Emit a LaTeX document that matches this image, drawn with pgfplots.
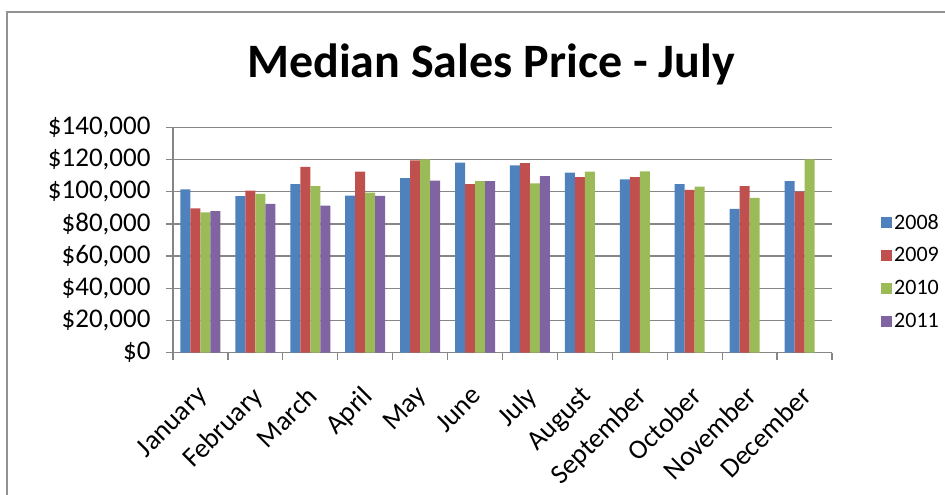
\documentclass[border=0pt]{standalone}
\usepackage{pgfplots}
\pgfplotsset{compat=1.18}
\usepackage{fontspec}
\setmainfont{Carlito}
\definecolor{cA}{HTML}{4F81BD}
\definecolor{cB}{HTML}{C0504D}
\definecolor{cC}{HTML}{9BBB59}
\definecolor{cD}{HTML}{8064A2}
\definecolor{gridc}{HTML}{868686}
\begin{document}
\begin{tikzpicture}[x=1pt,y=1pt]
\useasboundingbox (0,0) rectangle (945,495);
\begin{scope}
\clip (0,0) rectangle (945,495);
\draw[gridc!90, line width=1.5pt] (7,-10) -- (7,483) -- (960,483);
\end{scope}
\node[font=\fontsize{48}{56}\selectfont\bfseries] at (491,431) {Median Sales Price - July};
\begin{axis}[
  at={(173pt,142.3pt)}, anchor=south west,
  scale only axis, width=659pt, height=225.4pt,
  xmin=-0.5, xmax=11.5, ymin=0, ymax=140000,
  ybar=0pt, bar width=10pt,
  axis x line*=bottom, axis y line*=left,
  axis line style={gridc, line width=1.3pt},
  ymajorgrids, grid style={gridc, line width=1.3pt},
  tick style={gridc, line width=1.3pt},
  major tick length=7pt, tick align=outside,
  ytick={0,20000,...,140000},
  scaled y ticks=false,
  yticklabel={\$\pgfmathprintnumber{\tick}},
  /pgf/number format/.cd, fixed, precision=0, 1000 sep={,}, assume math mode=true,
  /pgfplots/.cd,
  yticklabel style={font=\fontsize{27}{32}\selectfont, xshift=-12pt},
  xtick={-0.5,0.5,...,11.5}, xticklabels={},
  extra x ticks={0,1,2,3,4,5,6,7,8,9,10,11},
  extra x tick labels={January,February,March,April,May,June,July,August,September,October,November,December},
  extra x tick style={major tick length=0pt, xticklabel style={xshift=-5pt, yshift=-27pt, rotate=45, anchor=north east, font=\fontsize{27.5}{32}\selectfont}},
  legend style={at={(1,0.66)}, anchor=north west, xshift=46pt, yshift=-6pt, draw=none, fill=none,
    font=\fontsize{22}{26}\selectfont, row sep=13pt, legend cell align=left},
  legend image code/.code={\fill[#1] (0pt,-5.5pt) rectangle (11pt,5.5pt);},
]
\addplot[fill=cA, draw=none] coordinates {(0,101500) (1,97200) (2,104700) (3,97600) (4,108400) (5,118100) (6,116400) (7,111900) (8,107600) (9,104700) (10,89300) (11,106500)};
\addplot[fill=cB, draw=none] coordinates {(0,89600) (1,100700) (2,115400) (3,112500) (4,119500) (5,104700) (6,117700) (7,109000) (8,109000) (9,101100) (10,103400) (11,100100)};
\addplot[fill=cC, draw=none] coordinates {(0,87100) (1,98700) (2,103400) (3,99500) (4,120000) (5,106500) (6,105100) (7,112500) (8,112700) (9,103200) (10,96200) (11,120000)};
\addplot[fill=cD, draw=none] coordinates {(0,87900) (1,92500) (2,91400) (3,97400) (4,106900) (5,106500) (6,109600)};
\legend{2008,2009,2010,2011}
\end{axis}
\end{tikzpicture}
\end{document}
